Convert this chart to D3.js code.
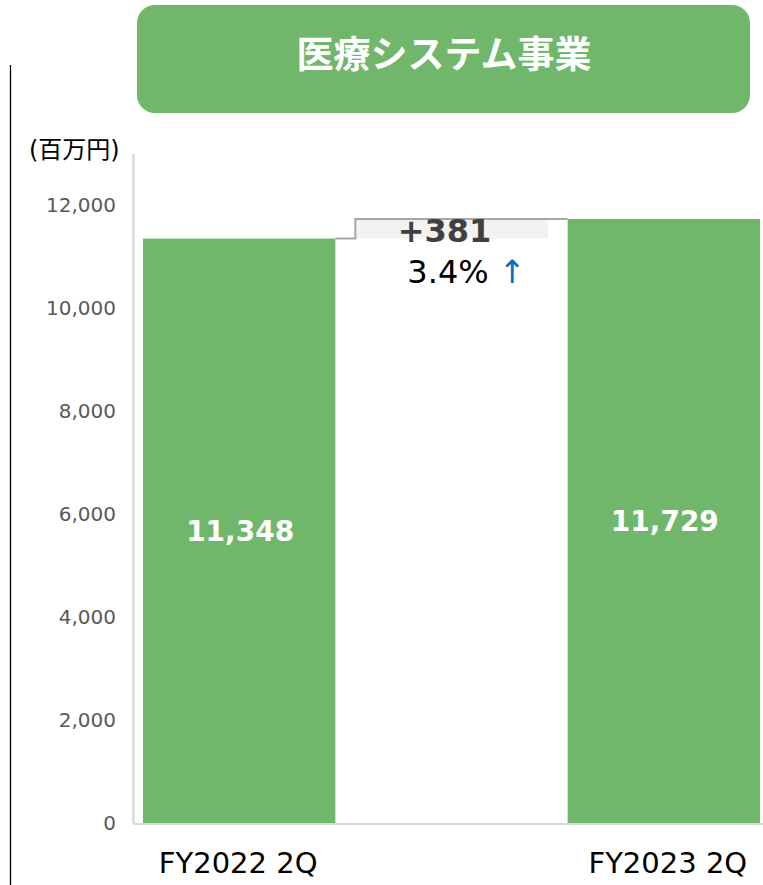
<!DOCTYPE html>
<html><head><meta charset="utf-8">
<script src="https://cdn.jsdelivr.net/npm/d3@7"></script>
<style>body{margin:0;background:#fff;}svg{display:block;}</style>
</head><body>
<script>
const title = "医療システム事業";
const unitLabel = "(百万円)";
const categories = ["FY2022 2Q", "diff", "FY2023 2Q"];
const barCategories = ["FY2022 2Q", "FY2023 2Q"];
const values = [11348, 11729];
const diffLabel = "+381";
const pctLabel = "3.4%";
const yTicks = [0, 2000, 4000, 6000, 8000, 10000, 12000];

const W = 763, H = 885;
const FONT = "'DejaVu Sans', Verdana, sans-serif";
const svg = d3.select("body").append("svg").attr("width", W).attr("height", H);

const x = d3.scaleBand().domain(categories).range([133, 770]).paddingInner(0.094).paddingOuter(0.047);
const y = d3.scaleLinear().domain([0, 13000]).range([823, 153.5]);

// left black line
svg.append("line").attr("x1", 10.5).attr("x2", 10.5).attr("y1", 65).attr("y2", H).attr("stroke", "#000").attr("stroke-width", 1.3);

// title box
svg.append("rect").attr("x", 137).attr("y", 5).attr("width", 613).attr("height", 108).attr("rx", 18).attr("fill", "#70b76c");
svg.append("text").attr("x", 444).attr("y", 68).attr("text-anchor", "middle")
  .attr("font-family", "'Noto Sans CJK JP', sans-serif").attr("font-weight", "bold").attr("font-size", 37)
  .attr("fill", "#fff").text(title);

// unit label
svg.append("text").attr("x", 29).attr("y", 158).attr("font-family", FONT + ", 'Noto Sans CJK JP'")
  .attr("font-size", 24).attr("fill", "#000").text(unitLabel);

// y axis
const yAxis = d3.axisLeft(y).tickValues(yTicks).tickSize(0).tickPadding(17).tickFormat(d3.format(","));
const ga = svg.append("g").attr("transform", "translate(133,0)").call(yAxis);
ga.select(".domain").attr("stroke", "#d9d9d9").attr("stroke-width", 2.5);
ga.selectAll("text").attr("font-family", FONT).attr("font-size", 20).attr("fill", "#595959");

// bars
svg.selectAll("rect.bar").data(barCategories).enter().append("rect").attr("class", "bar")
  .attr("x", d => x(d)).attr("width", x.bandwidth())
  .attr("y", (d, i) => y(values[i])).attr("height", (d, i) => y(0) - y(values[i]))
  .attr("fill", "#70b76c");

// baseline
svg.append("line").attr("x1", 133).attr("x2", W).attr("y1", y(0) + 1).attr("y2", y(0) + 1).attr("stroke", "#d9d9d9").attr("stroke-width", 2);

// diff box
const dx = x("diff");
svg.append("rect").attr("x", dx).attr("width", x.bandwidth()).attr("y", y(values[1])).attr("height", y(values[0]) - y(values[1])).attr("fill", "#f2f2f2");
svg.append("path").attr("fill", "none").attr("stroke", "#a6a6a6").attr("stroke-width", 2)
  .attr("d", `M${x(barCategories[0]) + x.bandwidth()},${y(values[0])} H${dx} V${y(values[1])} H${x(barCategories[1])}`);

// value labels
svg.selectAll("text.val").data(barCategories).enter().append("text").attr("class", "val")
  .attr("x", d => x(d) + x.bandwidth() / 2 + 1)
  .attr("y", (d, i) => (y(values[i]) + y(0)) / 2 + 10)
  .attr("text-anchor", "middle").attr("font-family", FONT).attr("font-weight", "bold")
  .attr("font-size", 28).attr("fill", "#fff").text((d, i) => d3.format(",")(values[i]));

// diff labels
svg.append("text").attr("x", dx + x.bandwidth() / 2 - 7).attr("y", 242).attr("text-anchor", "middle")
  .attr("font-family", FONT).attr("font-weight", "bold").attr("font-size", 32)
  .attr("fill", "#404040").text(diffLabel);
const t2 = svg.append("text").attr("x", dx + x.bandwidth() / 2 + 15).attr("y", 283).attr("text-anchor", "middle")
  .attr("font-family", FONT).attr("font-size", 32).attr("fill", "#000");
t2.append("tspan").text(pctLabel + " ");
t2.append("tspan").attr("fill", "#0070c0").text("↑");

// category labels
svg.selectAll("text.cat").data(barCategories).enter().append("text").attr("class", "cat")
  .attr("x", (d, i) => x(d) + x.bandwidth() / 2 + (i === 0 ? -1 : 4)).attr("y", 873).attr("text-anchor", "middle")
  .attr("font-family", FONT).attr("font-size", 29).attr("fill", "#000").text(d => d);
</script>
</body></html>
